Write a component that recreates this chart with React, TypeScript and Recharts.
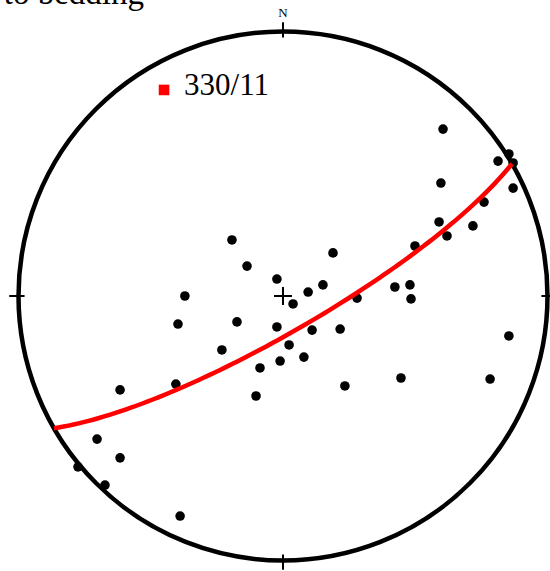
import React from 'react';
import { ScatterChart, Scatter, XAxis, YAxis, ReferenceDot, ReferenceLine } from 'recharts';

// Poles plotted on the lower-hemisphere equal-area net (east, north; unit = net radius)
const poleEast = [
  -0.193, -0.136, -0.023, 0.189, 0.095, 0.151, 0.038, -0.371, -0.397, -0.174,
  -0.023, 0.11, 0.216, -0.231, 0.023, -0.087, -0.011, 0.079, -0.405, -0.102,
  0.234, 0.28, 0.423, 0.48, 0.484, 0.499, 0.446, 0.59, 0.62, 0.597,
  0.605, 0.718, 0.76, 0.813, 0.854, 0.87, 0.87, 0.854, 0.783, -0.616,
  -0.703, -0.616, -0.775, -0.673, -0.389,
];
const poleNorth = [
  0.212, 0.113, 0.064, 0.163, 0.015, 0.042, -0.03, 0.0, -0.106, -0.098,
  -0.117, -0.129, -0.125, -0.204, -0.185, -0.272, -0.246, -0.231, -0.333, -0.378,
  -0.34, -0.008, 0.034, 0.042, -0.011, 0.189, -0.31, 0.28, 0.227, 0.427,
  0.631, 0.265, 0.355, 0.51, 0.537, 0.503, 0.408, -0.151, -0.314, -0.355,
  -0.541, -0.612, -0.646, -0.715, -0.832,
];

// Best-fit pole (trend / plunge) and its label
const fitTrend = [330];
const fitPlunge = [11];
const fitLabel = ['330/11'];

const titleText = ['to bedding'];
const northLabel = ['N'];

const deg = Math.PI / 180;

// equal-area projection of a lower-hemisphere unit vector (east, north, down)
const project = (e: number, n: number, d: number) => {
  const k = 1 / Math.sqrt(1 + d);
  return { x: e * k, y: n * k };
};

const poleData = poleEast.map((e, i) => ({ x: e, y: poleNorth[i] }));

const fitData = fitTrend.map((t, i) => {
  const p = fitPlunge[i];
  const p1 = project(Math.cos(p * deg) * Math.sin(t * deg), Math.cos(p * deg) * Math.cos(t * deg), Math.sin(p * deg));
  return { ...p1, label: fitLabel[i] };
});

// great circle of the plane normal to the fit pole
const buildGreatCircle = () => {
  const dipDir = (fitTrend[0] + 180) % 360;
  const dip = 90 - fitPlunge[0];
  const strike = dipDir - 90;
  const s = [Math.sin(strike * deg), Math.cos(strike * deg), 0];
  const dv = [
    Math.sin(dipDir * deg) * Math.cos(dip * deg),
    Math.cos(dipDir * deg) * Math.cos(dip * deg),
    Math.sin(dip * deg),
  ];
  const pts: { x: number; y: number }[] = [];
  for (let a = 0; a <= 180; a += 2) {
    const c = Math.cos(a * deg);
    const sn = Math.sin(a * deg);
    pts.push(project(s[0] * c + dv[0] * sn, s[1] * c + dv[1] * sn, Math.max(0, s[2] * c + dv[2] * sn)));
  }
  return pts;
};
const greatCircle = buildGreatCircle();

const W = 550;
const H = 571;
const CX = 283;
const CY = 296;
const R = 264.5;
const serif = '"Liberation Serif", "Times New Roman", serif';

const Dot = (props: any) => <circle cx={props.cx} cy={props.cy} r={4.8} fill="#000" />;
const NoShape = () => <g />;
const FitShape = (props: any) => (
  <g>
    <rect x={props.cx - 5.3} y={props.cy - 5.3} width={10.6} height={10.6} fill="#ff0000" />
    <text x={props.cx + 20} y={props.cy + 5.5} fontFamily={serif} fontSize={31} fill="#000">
      {props.payload.label}
    </text>
  </g>
);

const ti = 0.977;
const to = 1.035;
const pc = 0.034;

export default function App() {
  return (
    <div style={{ position: 'absolute', left: 0, top: 0, width: W, height: H, background: '#fff' }}>
      <ScatterChart
        width={W}
        height={H}
        margin={{ top: CY - R, right: W - (CX + R), bottom: H - (CY + R), left: CX - R }}
      >
        <XAxis type="number" dataKey="x" domain={[-1, 1]} allowDataOverflow hide />
        <YAxis type="number" dataKey="y" domain={[-1, 1]} allowDataOverflow hide />
        <ReferenceDot x={0} y={0} r={R} fill="none" stroke="#000" strokeWidth={4.5} ifOverflow="visible" />
        <ReferenceLine segment={[{ x: 0, y: ti }, { x: 0, y: to }]} stroke="#000" strokeWidth={2} ifOverflow="visible" />
        <ReferenceLine segment={[{ x: 0, y: -ti }, { x: 0, y: -to }]} stroke="#000" strokeWidth={2} ifOverflow="visible" />
        <ReferenceLine segment={[{ x: ti, y: 0 }, { x: to, y: 0 }]} stroke="#000" strokeWidth={2} ifOverflow="visible" />
        <ReferenceLine segment={[{ x: -ti, y: 0 }, { x: -to, y: 0 }]} stroke="#000" strokeWidth={2} ifOverflow="visible" />
        <ReferenceLine segment={[{ x: -pc, y: 0 }, { x: pc, y: 0 }]} stroke="#000" strokeWidth={2} ifOverflow="visible" />
        <ReferenceLine segment={[{ x: 0, y: -pc }, { x: 0, y: pc }]} stroke="#000" strokeWidth={2} ifOverflow="visible" />
        <Scatter data={poleData} shape={Dot} isAnimationActive={false} />
        <Scatter
          data={greatCircle}
          shape={NoShape}
          line={{ stroke: '#ff0000', strokeWidth: 4.5 }}
          lineJointType="linear"
          isAnimationActive={false}
        />
        <Scatter data={fitData} shape={FitShape} isAnimationActive={false} />
      </ScatterChart>
      <svg
        width={W}
        height={H}
        style={{ position: 'absolute', left: 0, top: 0, pointerEvents: 'none' }}
      >
        <text x={144} y={4} textAnchor="end" fontFamily={serif} fontSize={33} fill="#000">
          {titleText[0]}
        </text>
        <text x={CX} y={17} textAnchor="middle" fontFamily={serif} fontSize={13} fill="#000">
          {northLabel[0]}
        </text>
      </svg>
    </div>
  );
}
